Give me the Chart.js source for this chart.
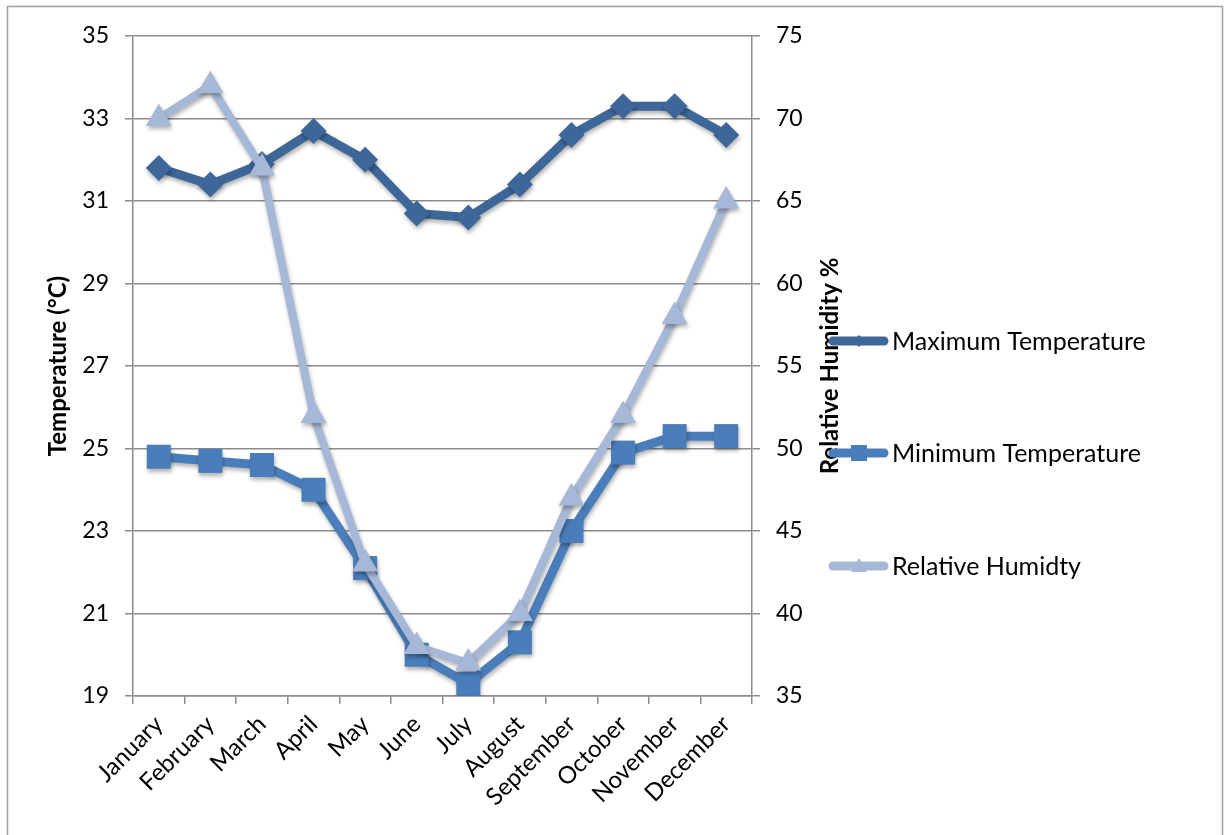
<!DOCTYPE html>
<html>
<head>
<meta charset="utf-8">
<script src="https://cdn.jsdelivr.net/npm/chart.js@4/dist/chart.umd.min.js"></script>
<style>
  html, body { margin: 0; padding: 0; background: #fff; }
  #wrap { width: 1232px; height: 835px; position: relative; }
</style>
</head>
<body>
<div id="wrap"><canvas id="climate-chart"></canvas></div>
<script>
// ── Data ──
const MONTHS = ["January", "February", "March", "April", "May", "June",
                "July", "August", "September", "October", "November", "December"];
const MAX_TEMP = [31.8, 31.4, 31.9, 32.7, 32.0, 30.7, 30.6, 31.4, 32.6, 33.3, 33.3, 32.6];
const MIN_TEMP = [24.8, 24.7, 24.6, 24.0, 22.1, 20.0, 19.3, 20.3, 23.0, 24.9, 25.3, 25.3];
const HUMIDITY = [70, 72, 67, 52, 43, 38, 37, 40, 47, 52, 58, 65];

const TEMP_TICKS = { min: 19, max: 35, step: 2 };
const HUM_TICKS = { min: 35, max: 75, step: 5 };

const COLORS = {
    max: "#3D6699",
    min: "#4A7EBB",
    hum: "#A6B8D7",
    grid: "#8C8C8C",
};

const FONT = "Lato, 'Open Sans', sans-serif";

// ── Plugins ──

// outer frame around the whole chart object
const framePlugin = {
    id: "frame",
    beforeDraw(chart) {
        const ctx = chart.ctx;
        ctx.save();
        ctx.fillStyle = "#fff";
        ctx.fillRect(0, 0, chart.width, chart.height);
        ctx.strokeStyle = "#A0A0A0";
        ctx.lineWidth = 1.5;
        ctx.strokeRect(7.5, 6.5, 1215, 840);
        ctx.restore();
    },
};

// soft drop shadow under the series, like the office style
const shadowPlugin = {
    id: "shadow",
    beforeDatasetsDraw(chart) {
        const ctx = chart.ctx;
        ctx.save();
        ctx.shadowColor = "rgba(0,0,0,0.3)";
        ctx.shadowBlur = 4;
        ctx.shadowOffsetX = 1;
        ctx.shadowOffsetY = 3;
    },
    afterDatasetsDraw(chart) {
        chart.ctx.restore();
    },
};

// both axis titles, read bottom to top
const axisTitlePlugin = {
    id: "axisTitles",
    afterDraw(chart) {
        const ctx = chart.ctx;
        const midY = (chart.chartArea.top + chart.chartArea.bottom) / 2;
        ctx.save();
        ctx.font = "bold 24px " + FONT;
        ctx.fillStyle = "#000";
        ctx.textAlign = "center";
        ctx.textBaseline = "middle";
        [[58, "Temperature (°C)"], [830, "Relative Humidity %"]].forEach(([x, text]) => {
            ctx.save();
            ctx.translate(x, midY);
            ctx.rotate(-Math.PI / 2);
            ctx.fillText(text, 0, 0);
            ctx.restore();
        });
        ctx.restore();
    },
};

function drawMarker(ctx, style, x, y, r) {
    ctx.beginPath();
    if (style === "rectRot") {
        ctx.moveTo(x, y - r); ctx.lineTo(x + r, y); ctx.lineTo(x, y + r); ctx.lineTo(x - r, y);
    } else if (style === "rect") {
        ctx.rect(x - r, y - r, 2 * r, 2 * r);
    } else {
        ctx.moveTo(x, y - r); ctx.lineTo(x + r, y + r * 0.75); ctx.lineTo(x - r, y + r * 0.75);
    }
    ctx.closePath();
    ctx.fill();
}

// legend stacked on the right, entries spread down the plot
const legendPlugin = {
    id: "sideLegend",
    afterDraw(chart) {
        const ctx = chart.ctx;
        const rows = [341, 453, 566];
        const markerSize = [6, 8, 8];
        ctx.save();
        ctx.font = "25px " + FONT;
        ctx.textBaseline = "middle";
        ctx.textAlign = "left";
        chart.data.datasets.forEach((ds, i) => {
            const y = rows[i];
            ctx.strokeStyle = ds.borderColor;
            ctx.fillStyle = ds.borderColor;
            ctx.lineWidth = 9;
            ctx.lineCap = "round";
            ctx.beginPath();
            ctx.moveTo(833, y);
            ctx.lineTo(884, y);
            ctx.stroke();
            drawMarker(ctx, ds.pointStyle, 859, y, markerSize[i]);
            ctx.fillStyle = "#000";
            ctx.fillText(ds.label, 892, y + 1);
        });
        ctx.restore();
    },
};

// ── Chart ──

function seriesDataset(label, data, color, style, radius, width, axis, order) {
    return {
        label: label,
        data: data,
        yAxisID: axis,
        order: order,
        borderColor: color,
        backgroundColor: color,
        borderWidth: width,
        pointStyle: style,
        pointRadius: radius,
        pointHoverRadius: radius,
        pointBorderWidth: 0,
        tension: 0,
    };
}

Chart.defaults.color = "#000";
Chart.defaults.font.family = FONT;

new Chart(document.getElementById("climate-chart"), {
    type: "line",
    data: {
        labels: MONTHS,
        datasets: [
            seriesDataset("Maximum Temperature", MAX_TEMP, COLORS.max, "rectRot", 13, 9, "yTemp", 2),
            seriesDataset("Minimum Temperature", MIN_TEMP, COLORS.min, "rect", 17, 9, "yTemp", 1),
            seriesDataset("Relative Humidty", HUMIDITY, COLORS.hum, "triangle", 15, 8, "yHum", 0),
        ],
    },
    options: {
        responsive: true,
        maintainAspectRatio: false,
        animation: false,
        devicePixelRatio: 1,
        layout: { padding: { left: 0, top: 36, right: 410, bottom: 0 } },
        plugins: {
            legend: { display: false },
            tooltip: { enabled: false },
        },
        scales: {
            x: {
                offset: true,
                grid: { offset: true, drawOnChartArea: false, tickLength: 8, color: COLORS.grid, lineWidth: 1.5 },
                border: { color: COLORS.grid, width: 1.5 },
                ticks: { font: { size: 24 }, maxRotation: 45, minRotation: 45, padding: 6, autoSkip: false },
                afterFit: s => { s.height = 139; },
            },
            yTemp: {
                position: "left",
                min: TEMP_TICKS.min,
                max: TEMP_TICKS.max,
                ticks: { stepSize: TEMP_TICKS.step, font: { size: 23 }, padding: 16 },
                grid: { color: COLORS.grid, lineWidth: 1.5, tickLength: 8 },
                border: { color: COLORS.grid, width: 1.5 },
                afterFit: s => { s.width = 133; },
            },
            yHum: {
                position: "right",
                min: HUM_TICKS.min,
                max: HUM_TICKS.max,
                ticks: { stepSize: HUM_TICKS.step, font: { size: 23 }, padding: 16 },
                grid: { drawOnChartArea: false, color: COLORS.grid, lineWidth: 1.5, tickLength: 8 },
                border: { color: COLORS.grid, width: 1.5 },
                afterFit: s => { s.width = 70; },
            },
        },
    },
    plugins: [framePlugin, shadowPlugin, axisTitlePlugin, legendPlugin],
});
</script>
</body>
</html>
